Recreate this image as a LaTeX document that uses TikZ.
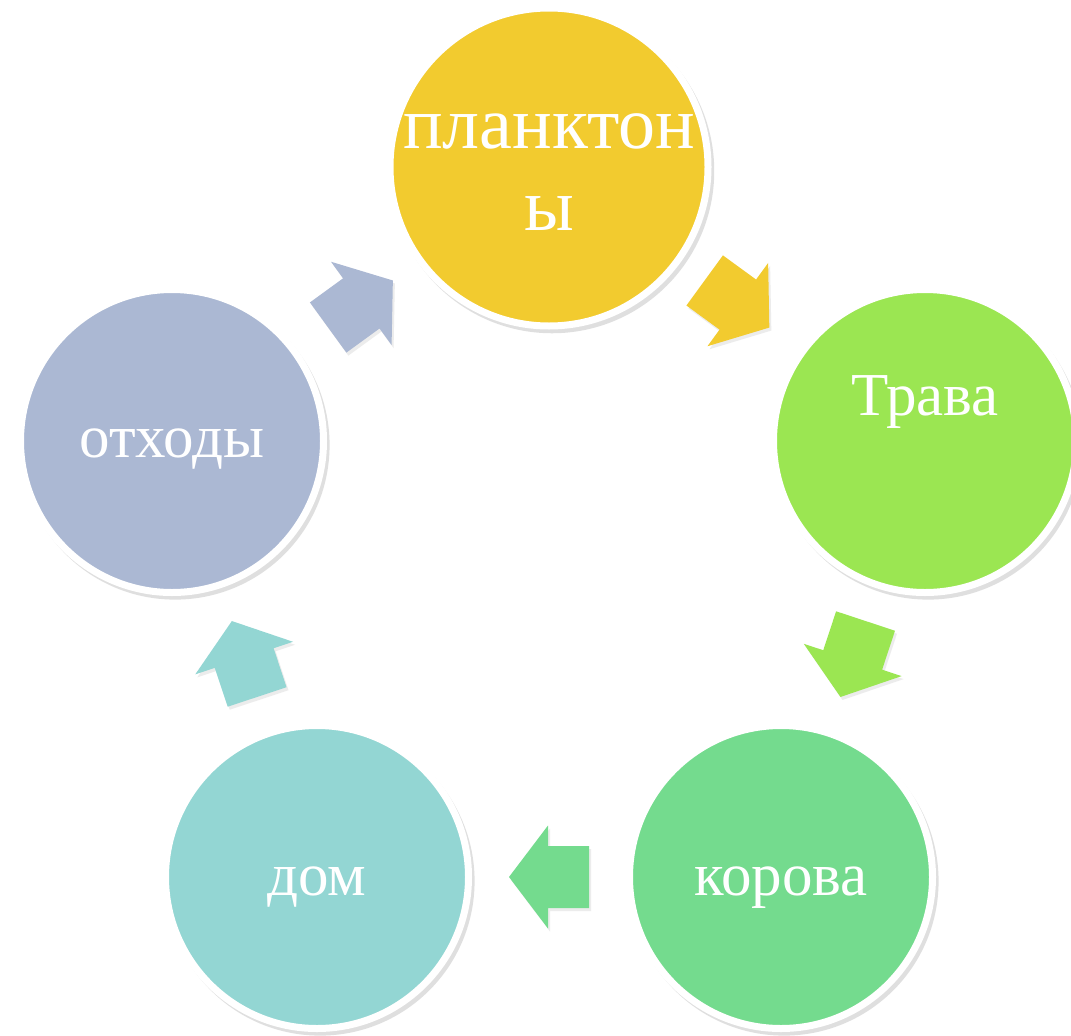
\documentclass[tikz,border=0pt]{standalone}
\usepackage{fontspec}
\setmainfont{Liberation Serif}
\usetikzlibrary{calc, shadows}

\definecolor{planktonYellow}{RGB}{242,203,47}
\definecolor{travaGreen}{RGB}{155,230,82}
\definecolor{korovaGreen}{RGB}{116,219,142}
\definecolor{domTeal}{RGB}{147,214,211}
\definecolor{othodyBlue}{RGB}{171,184,211}

\begin{document}
\begin{tikzpicture}[x=1pt, y=-1pt,
        stage/.style={circle, draw=white, line width=7pt, fill=#1, minimum size=303pt, inner sep=0pt,
            text=white, align=center,
            drop shadow={shadow xshift=3pt, shadow yshift=-4pt, shadow scale=1.02, opacity=.25}},
        stagetext/.style={font=\fontsize{61}{73}\selectfont, text height=50pt, text depth=14pt},
        blockarr/.style={fill=#1, drop shadow={shadow xshift=2pt, shadow yshift=-3pt, opacity=.15}}
    ]
        \newcommand{\arr}[3]{% block arrow between two stages
            \coordinate (mid) at ($(#1)!0.5!(#2)$);
            \coordinate (tail) at ($(mid)!-40pt!(#2)$);
            \coordinate (base) at ($(mid)!1pt!(#2)$);
            \coordinate (tip) at ($(mid)!40pt!(#2)$);
            \fill[blockarr=#3] ($(tail)!31pt!90:(#2)$) -- ($(base)!31pt!90:(#2)$) -- ($(base)!51.5pt!90:(#2)$)
                -- (tip) -- ($(base)!51.5pt!-90:(#2)$) -- ($(base)!31pt!-90:(#2)$) -- ($(tail)!31pt!-90:(#2)$) -- cycle;
        }

        \fill[white, use as bounding box] (0,0) rectangle (1071,1036);

        \node[stage=planktonYellow, font=\fontsize{74}{82}\selectfont, text height=126pt] (plankton) at (549,167) {планктон\\ы};
        \node[stage=travaGreen, stagetext] (trava) at (925,441) {\raisebox{44pt}{Трава}};
        \node[stage=korovaGreen, stagetext] (korova) at (781,877) {корова};
        \node[stage=domTeal, stagetext] (dom) at (317,877) {дом};
        \node[stage=othodyBlue, stagetext, text height=46pt] (othody) at (172,441) {отходы};

        \arr{plankton}{trava}{planktonYellow}
        \arr{trava}{korova}{travaGreen}
        \arr{korova}{dom}{korovaGreen}
        \arr{dom}{othody}{domTeal}
        \arr{othody}{plankton}{othodyBlue}
    \end{tikzpicture}
\end{document}
